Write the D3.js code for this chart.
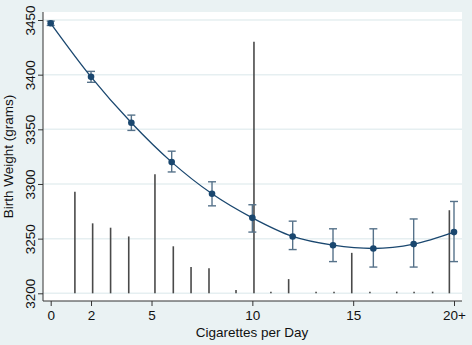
<!DOCTYPE html>
<html>
<head>
<meta charset="utf-8">
<script src="https://cdn.jsdelivr.net/npm/d3@7"></script>
<style>
  body { margin: 0; background: #eaf2f3; }
  svg { display: block; font-family: "Liberation Sans", Arial, sans-serif; }
</style>
</head>
<body>
<svg id="chart" width="472" height="345"></svg>
<script>
// predicted birth weight by cigarettes per day
var cigs     = [0, 2, 4, 6, 8, 10, 12, 14, 16, 18, 20];
var weight   = [3447, 3398, 3356, 3320, 3291, 3269, 3252, 3244, 3241, 3245, 3256];
var ciLow    = [3445, 3393, 3349, 3311, 3280, 3256, 3240, 3229, 3224, 3224, 3229];
var ciHigh   = [3449, 3403, 3363, 3330, 3302, 3281, 3266, 3259, 3259, 3268, 3284];

// distribution spikes (rescaled to the weight axis)
var spikeX   = [1.2, 2.08, 2.97, 3.87, 5.17, 6.08, 6.96, 7.85, 9.19, 10.08, 10.92,
                11.8, 13.16, 14.05, 14.93, 15.83, 17.16, 18.02, 18.94, 19.77];
var spikeTop = [3293, 3264, 3260, 3252, 3309, 3243, 3224, 3223, 3203, 3430, 3201.5,
                3213, 3201.5, 3201.5, 3237, 3201.5, 3201.5, 3201.5, 3201.5, 3276];

var xTicks   = [0, 2, 5, 10, 15, 20];
var xLabels  = ["0", "2", "5", "10", "15", "20+"];
var yTicks   = [3200, 3250, 3300, 3350, 3400, 3450];

var svg = d3.select("#chart");
var plot = {left: 43, right: 462, top: 12, bottom: 301};

var x = d3.scaleLinear().domain([0, 20]).range([50.7, 454]);
var y = d3.scaleLinear().domain([3200, 3450]).range([293.3, 20]);

svg.append("rect")
  .attr("x", plot.left).attr("y", plot.top)
  .attr("width", plot.right - plot.left).attr("height", plot.bottom - plot.top)
  .attr("fill", "#fff");

// gridlines
svg.append("g").selectAll("line").data(yTicks).enter().append("line")
  .attr("x1", plot.left).attr("x2", plot.right)
  .attr("y1", function(d) { return y(d); }).attr("y2", function(d) { return y(d); })
  .attr("stroke", "#e6eff1").attr("stroke-width", 1.5);

// spikes
svg.append("g").selectAll("line").data(spikeX).enter().append("line")
  .attr("x1", function(d) { return x(d); }).attr("x2", function(d) { return x(d); })
  .attr("y1", y(3200))
  .attr("y2", function(d, i) { return y(spikeTop[i]); })
  .attr("stroke", "#4a4a4a").attr("stroke-width", 1.6);

// confidence intervals
var ci = svg.append("g").attr("stroke", "#56728a").attr("stroke-width", 1.4);
cigs.forEach(function(c, i) {
  ci.append("line").attr("x1", x(c)).attr("x2", x(c))
    .attr("y1", y(ciLow[i])).attr("y2", y(ciHigh[i]));
  [ciLow[i], ciHigh[i]].forEach(function(v) {
    ci.append("line").attr("x1", x(c) - 4).attr("x2", x(c) + 4)
      .attr("y1", y(v)).attr("y2", y(v));
  });
});

// fitted line + markers
var line = d3.line()
  .x(function(d, i) { return x(cigs[i]); })
  .y(function(d) { return y(d); })
  .curve(d3.curveMonotoneX);

svg.append("path").datum(weight)
  .attr("d", line)
  .attr("fill", "none")
  .attr("stroke", "#1a476f").attr("stroke-width", 1.3);

svg.append("g").selectAll("circle").data(weight).enter().append("circle")
  .attr("cx", function(d, i) { return x(cigs[i]); })
  .attr("cy", function(d) { return y(d); })
  .attr("r", 3.3)
  .attr("fill", "#1a476f");

// axes
var xAxis = d3.axisBottom(x).tickValues(xTicks)
  .tickFormat(function(d, i) { return xLabels[i]; })
  .tickSize(5).tickSizeOuter(0);
var gx = svg.append("g").attr("transform", "translate(0," + plot.bottom + ")").call(xAxis);
gx.select(".domain").attr("d", "M" + plot.left + ",0H" + plot.right);
gx.selectAll("text").attr("dy", "0").attr("y", 19).attr("font-size", 13.5).attr("fill", "#111");

var yAxis = d3.axisLeft(y).tickValues(yTicks).tickFormat(d3.format("d"))
  .tickSize(5).tickSizeOuter(0);
var gy = svg.append("g").attr("transform", "translate(" + plot.left + ",0)").call(yAxis);
gy.select(".domain").attr("d", "M0," + plot.top + "V" + plot.bottom);
gy.selectAll("text")
  .attr("x", null).attr("dy", null)
  .attr("transform", "translate(-8.5,0) rotate(-90)")
  .attr("text-anchor", "middle")
  .attr("font-size", 13.5).attr("fill", "#111");

svg.selectAll(".domain").attr("stroke", "#333");
svg.selectAll(".tick line").attr("stroke", "#333");

svg.append("text")
  .attr("x", 252).attr("y", 337)
  .attr("text-anchor", "middle").attr("font-size", 13.5).attr("fill", "#111")
  .text("Cigarettes per Day");

svg.append("text")
  .attr("transform", "translate(13," + ((plot.top + plot.bottom) / 2) + ") rotate(-90)")
  .attr("text-anchor", "middle").attr("font-size", 13.5).attr("fill", "#111")
  .text("Birth Weight (grams)");
</script>
</body>
</html>
